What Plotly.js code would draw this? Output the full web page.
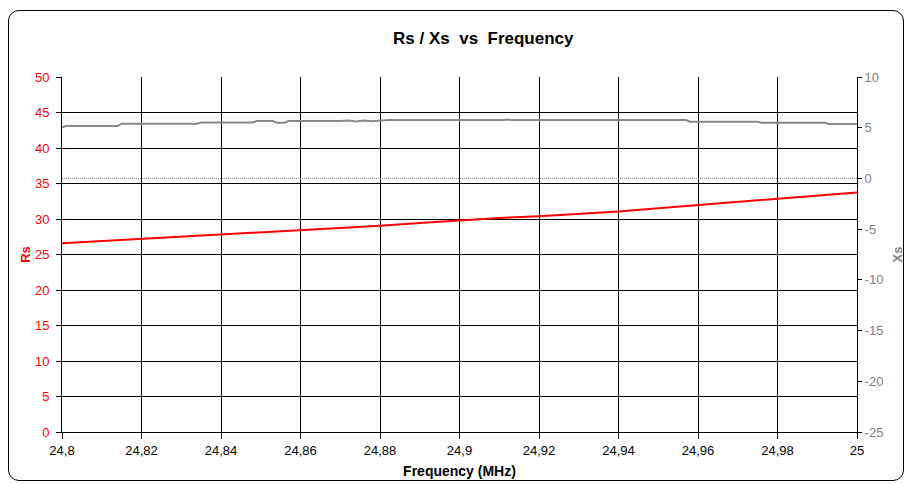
<!DOCTYPE html>
<html>
<head>
<meta charset="utf-8">
<script src="https://cdn.plot.ly/plotly-3.0.1.min.js"></script>
<style>
  html, body { margin: 0; padding: 0; background: #fff; }
  #wrap { position: relative; width: 905px; height: 484px; }
  #frame { position: absolute; left: 8px; top: 10px; width: 896px; height: 471px;
           border: 1px solid #000; border-radius: 11px; box-sizing: border-box; pointer-events: none; }
  #chart { position: absolute; left: 0; top: 0; width: 905px; height: 484px; }
</style>
</head>
<body>
<div id="wrap">
  <div id="chart"></div>
  <div id="frame"></div>
</div>
<script>
// Frequency (MHz) and Rs (ohm)
const rsFreq = [24.80, 24.81, 24.82, 24.83, 24.84, 24.85, 24.86, 24.87, 24.88, 24.89, 24.90,
                24.91, 24.92, 24.93, 24.94, 24.95, 24.96, 24.97, 24.98, 24.99, 25.00];
const rsValues = [26.6, 26.9, 27.25, 27.5, 27.75, 28.05, 28.35, 28.7, 29.05, 29.45, 29.85,
                  30.15, 30.4, 30.7, 31.05, 31.5, 31.95, 32.4, 32.8, 33.3, 33.75];

// Frequency (MHz) and Xs (ohm)
const xsFreq = [24.800, 24.801, 24.814, 24.815, 24.834, 24.835, 24.848, 24.849, 24.853, 24.854,
                24.856, 24.857, 24.870, 24.872, 24.874, 24.876, 24.878, 24.880, 24.882, 24.911,
                24.912, 24.913, 24.957, 24.958, 24.975, 24.976, 24.992, 24.993, 25.000];
const xsValues = [5.05, 5.16, 5.16, 5.39, 5.39, 5.52, 5.52, 5.65, 5.65, 5.50,
                  5.50, 5.65, 5.65, 5.70, 5.62, 5.72, 5.63, 5.68, 5.75, 5.75,
                  5.82, 5.75, 5.75, 5.59, 5.59, 5.49, 5.49, 5.36, 5.36];

// Zero reference for Xs
const zeroFreq = [24.80, 25.00];
const zeroValues = [0, 0];

// Tick labels
const xTickVals = [24.80, 24.82, 24.84, 24.86, 24.88, 24.90, 24.92, 24.94, 24.96, 24.98, 25.00];
const xTickText = ["24,8", "24,82", "24,84", "24,86", "24,88", "24,9", "24,92", "24,94", "24,96", "24,98", "25"];
const rsTickVals = [0, 5, 10, 15, 20, 25, 30, 35, 40, 45, 50];
const rsTickText = ["0", "5", "10", "15", "20", "25", "30", "35", "40", "45", "50"];
const xsTickVals = [-25, -20, -15, -10, -5, 0, 5, 10];
const xsTickText = ["-25", "-20", "-15", "-10", "-5", "0", "5", "10"];

const font = "Liberation Sans, Arial, sans-serif";

const traces = [
  { x: zeroFreq, y: zeroValues, yaxis: 'y2', type: 'scatter', mode: 'lines',
    line: { color: '#8a8a8a', width: 1, dash: '1px,1px' }, hoverinfo: 'skip', showlegend: false },
  { x: xsFreq, y: xsValues, yaxis: 'y2', type: 'scatter', mode: 'lines', name: 'Xs',
    line: { color: '#888888', width: 2, shape: 'linear' }, showlegend: false },
  { x: rsFreq, y: rsValues, type: 'scatter', mode: 'lines', name: 'Rs',
    line: { color: '#ff0000', width: 2 }, showlegend: false }
];

const layout = {
  width: 905, height: 484,
  margin: { l: 62, r: 48, t: 77, b: 52 },
  paper_bgcolor: 'rgba(0,0,0,0)', plot_bgcolor: '#ffffff',
  font: { family: font, size: 13, color: '#000' },
  title: { text: '<b>Rs / Xs&nbsp;&nbsp;vs&nbsp;&nbsp;Frequency</b>', font: { family: font, size: 17, color: '#000' },
           x: 0.534, xanchor: 'center', y: 0.921, yanchor: 'middle' },
  showlegend: false,
  xaxis: {
    range: [24.8, 25.0], tickvals: xTickVals, ticktext: xTickText,
    showgrid: true, gridcolor: '#000', gridwidth: 1,
    showline: true, linecolor: '#000', linewidth: 1, mirror: false,
    ticks: 'outside', ticklen: 6, tickcolor: '#000',
    tickfont: { family: font, size: 13, color: '#000' },
    zeroline: false,
    title: { text: '<b>Frequency (MHz)</b>', font: { family: font, size: 14, color: '#000' }, standoff: 9 }
  },
  yaxis: {
    range: [0, 50], tickvals: rsTickVals, ticktext: rsTickText,
    showgrid: true, gridcolor: '#000', gridwidth: 1,
    showline: true, linecolor: '#000', linewidth: 1,
    ticks: 'outside', ticklen: 5, tickcolor: '#000', ticklabelstandoff: 4,
    tickfont: { family: font, size: 13, color: '#ff0000' },
    zeroline: false,
    title: { text: '<b>Rs</b>', font: { family: font, size: 13, color: '#ff0000' }, standoff: 1 }
  },
  yaxis2: {
    overlaying: 'y', side: 'right',
    range: [-25, 10], tickvals: xsTickVals, ticktext: xsTickText,
    showgrid: false, zeroline: false,
    showline: true, linecolor: '#000', linewidth: 1,
    ticks: 'outside', ticklen: 4, tickcolor: '#000',
    tickfont: { family: font, size: 13, color: '#808080' },
    title: { text: '<b>Xs</b>', font: { family: font, size: 13, color: '#808080' }, standoff: 12 }
  }
};

Plotly.newPlot('chart', traces, layout, { displayModeBar: false, staticPlot: true });
</script>
</body>
</html>
